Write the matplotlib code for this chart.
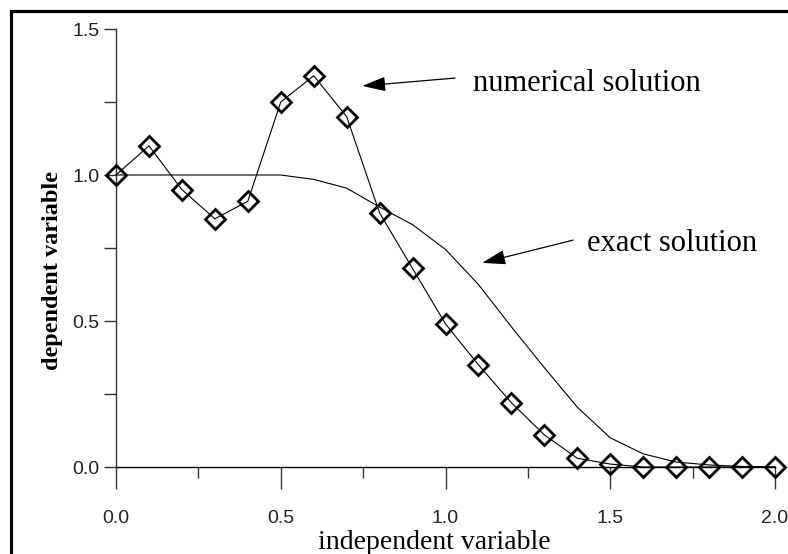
import numpy as np
import matplotlib
matplotlib.use("Agg")
import matplotlib.pyplot as plt
from matplotlib.patches import Rectangle

# values
x_vals = [0.0, 0.1, 0.2, 0.3, 0.4, 0.5, 0.6, 0.7, 0.8, 0.9, 1.0,
          1.1, 1.2, 1.3, 1.4, 1.5, 1.6, 1.7, 1.8, 1.9, 2.0]
numerical = [1.0, 1.10, 0.95, 0.85, 0.91, 1.25, 1.34, 1.20, 0.87, 0.68, 0.49,
             0.35, 0.22, 0.11, 0.03, 0.01, 0.0, 0.0, 0.0, 0.0, 0.0]
exact = [1.0, 1.0, 1.0, 1.0, 1.0, 1.0, 0.985, 0.955, 0.89, 0.83, 0.745,
         0.625, 0.48, 0.34, 0.205, 0.10, 0.045, 0.017, 0.007, 0.002, 0.0]

x_major = [0.0, 0.5, 1.0, 1.5, 2.0]
x_minor = [0.25, 0.75, 1.25, 1.75]
y_major = [0.0, 0.5, 1.0, 1.5]
y_minor = [0.25, 0.75, 1.25]
tick_labels_x = ["0.0", "0.5", "1.0", "1.5", "2.0"]
tick_labels_y = ["0.0", "0.5", "1.0", "1.5"]

serif = "Liberation Serif"
sans = "Liberation Sans"
axis_col = "#333333"

fig = plt.figure(figsize=(7.88, 5.54), dpi=100)
ax = fig.add_axes([116 / 788, 87 / 554, 659 / 788, 438 / 554])

ax.plot(x_vals, exact, color="black", lw=0.8, clip_on=False)
ax.plot(x_vals, numerical, color="black", lw=0.8, marker="D", ms=10,
        mfc="none", mec="black", mew=2.0, clip_on=False, zorder=3)

ax.set_xlim(0, 2.0)
ax.set_ylim(0, 1.5)

for side in ["top", "right"]:
    ax.spines[side].set_visible(False)
for side in ["left", "bottom"]:
    ax.spines[side].set_color(axis_col)
    ax.spines[side].set_linewidth(1.0)
ax.spines["bottom"].set_color("black")

ax.set_xticks(x_major)
ax.set_xticks(x_minor, minor=True)
ax.set_yticks(y_major)
ax.set_yticks(y_minor, minor=True)
ax.set_xticklabels(tick_labels_x, fontfamily=sans, fontsize=14, color="#222222")
ax.set_yticklabels(tick_labels_y, fontfamily=sans, fontsize=14, color="#222222")

ax.tick_params(axis="x", which="major", direction="out", length=16, width=1,
               color=axis_col, pad=15)
ax.tick_params(axis="x", which="minor", direction="out", length=8, width=1,
               color=axis_col)
ax.tick_params(axis="y", which="both", direction="out", length=8.5, width=1,
               color=axis_col, pad=3.5)

fig.text(0.5508, 0.020, "independent variable", fontfamily=serif,
         fontsize=20, ha="center", va="center")
fig.text(0.066, 0.5126, "dependent variable", fontfamily=serif,
         fontsize=17.5, fontweight="bold", rotation=90, ha="center", va="center")

arrow = dict(arrowstyle="-|>,head_length=1.45,head_width=0.45",
             color="black", lw=0.9, mutation_scale=10, shrinkA=0, shrinkB=0)
ax.annotate("", xy=(0.747, 1.305), xytext=(1.029, 1.332), arrowprops=arrow,
            annotation_clip=False)
ax.text(1.083, 1.315, "numerical solution", fontfamily=serif, fontsize=22,
        ha="left", va="center")
ax.annotate("", xy=(1.111, 0.699), xytext=(1.387, 0.777), arrowprops=arrow,
            annotation_clip=False)
ax.text(1.429, 0.767, "exact solution", fontfamily=serif, fontsize=22,
        ha="left", va="center")

# outer frame (cut off at right and bottom in the original)
fig.patches.append(Rectangle((10.5 / 788, -0.2), 1.2, 0.2 + 1 - 11 / 554,
                             transform=fig.transFigure, fill=False,
                             lw=2.3, edgecolor="black", clip_on=False))

fig.savefig("out.png", dpi=100)
